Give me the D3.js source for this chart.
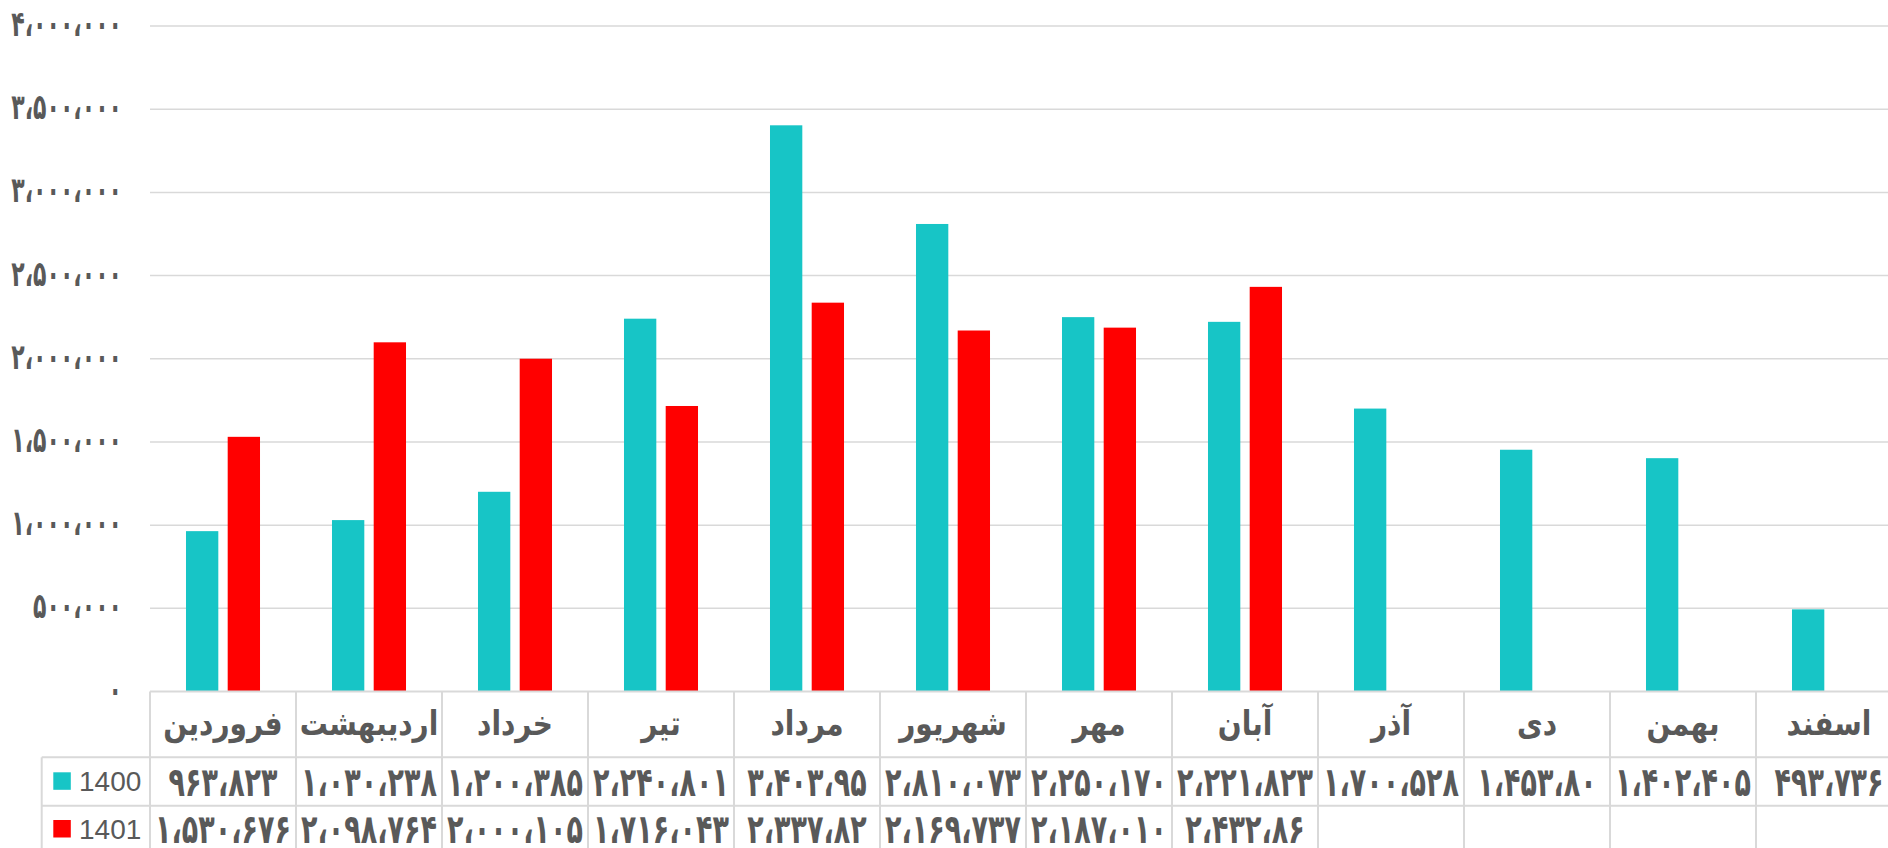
<!DOCTYPE html>
<html><head><meta charset="utf-8">
<script src="https://cdn.jsdelivr.net/npm/d3@7"></script>
<style>
html,body{margin:0;padding:0;background:#fff;overflow:hidden;}
svg{display:block;}
</style></head>
<body>
<svg id="chart" width="1888" height="848"></svg>
<script>
const months = ['فروردین','اردیبهشت','خرداد','تیر','مرداد','شهریور','مهر','آبان','آذر','دی','بهمن','اسفند'];
const seriesNames = ['1400','1401'];
const values1400 = [963823,1030238,1200385,2240801,3403095,2810073,2250170,2221823,1700528,1453080,1402405,493736];
const values1401 = [1530676,2098764,2000105,1716043,2337082,2169737,2187010,2432086];
const labels1400 = ['۹۶۳،۸۲۳','۱،۰۳۰،۲۳۸','۱،۲۰۰،۳۸۵','۲،۲۴۰،۸۰۱','۳،۴۰۳،۹۵','۲،۸۱۰،۰۷۳','۲،۲۵۰،۱۷۰','۲،۲۲۱،۸۲۳','۱،۷۰۰،۵۲۸','۱،۴۵۳،۸۰','۱،۴۰۲،۴۰۵','۴۹۳،۷۳۶'];
const labels1401 = ['۱،۵۳۰،۶۷۶','۲،۰۹۸،۷۶۴','۲،۰۰۰،۱۰۵','۱،۷۱۶،۰۴۳','۲،۳۳۷،۸۲','۲،۱۶۹،۷۳۷','۲،۱۸۷،۰۱۰','۲،۴۳۲،۸۶'];
const yTicks = [0,500000,1000000,1500000,2000000,2500000,3000000,3500000,4000000];
const colors = ['#17c5c6','#ff0000'];

const svg = d3.select('#chart');
const plotLeft = 150, colW = 146, plotTop = 26, plotBottom = 691.5;
const gridColor = '#d9d9d9', textColor = '#595959';
const faFont = "'DejaVu Sans', 'Noto Sans', sans-serif";

const x = d3.scaleBand().domain(months).range([plotLeft, plotLeft + colW*months.length]).padding(0);
const x1 = d3.scaleBand().domain(seriesNames).range([0, x.bandwidth()]).paddingInner(0.225).paddingOuter(0.863);
const y = d3.scaleLinear().domain([0, 4000000]).range([plotBottom, plotTop]);

const toFa = s => s.replace(/\d/g, d => '۰۱۲۳۴۵۶۷۸۹'[d]).replace(/,/g, '،');

// gridlines
svg.append('g').selectAll('line').data(yTicks.filter(d => d > 0)).join('line')
  .attr('x1', plotLeft).attr('x2', 1888)
  .attr('y1', d => y(d)).attr('y2', d => y(d))
  .attr('stroke', gridColor).attr('stroke-width', 1.5);

// y axis labels (tall bold Persian digits)
const yl = svg.append('g');
yl.selectAll('text').data(yTicks).join('text')
  .attr('transform', d => `translate(122,${y(d) + 10}) scale(1,1.6)`)
  .attr('text-anchor', 'end').attr('fill', textColor)
  .style('font-family', faFont).style('font-weight', 'bold').style('font-size', '22px')
  .attr('direction', 'ltr')
  .text(d => toFa(d3.format(',')(d)));

// bars
const series = [values1400, values1401];
series.forEach((vals, si) => {
  svg.append('g').selectAll('rect').data(vals).join('rect')
    .attr('x', (d, i) => x(months[i]) + x1(seriesNames[si]))
    .attr('width', x1.bandwidth())
    .attr('y', d => y(d))
    .attr('height', d => y(0) - y(d))
    .attr('fill', colors[si]);
});

// data table
const tTop = plotBottom, r1 = 757.3, r2 = 805.7, tBottom = 860, legLeft = 41.7;
const tg = svg.append('g');
const line = (x1_, y1_, x2_, y2_) => tg.append('line').attr('x1', x1_).attr('y1', y1_).attr('x2', x2_).attr('y2', y2_)
  .attr('stroke', gridColor).attr('stroke-width', 2);
line(plotLeft, tTop, 1888, tTop);
line(legLeft, r1, 1888, r1);
line(legLeft, r2, 1888, r2);
line(legLeft, r1, legLeft, tBottom);
tg.selectAll('line.v').data(months).join('line').attr('class', 'v')
  .attr('x1', d => x(d)).attr('x2', d => x(d)).attr('y1', tTop).attr('y2', tBottom)
  .attr('stroke', gridColor).attr('stroke-width', 2);

// header month names
tg.selectAll('text.m').data(months).join('text').attr('class', 'm')
  .attr('transform', d => `translate(${x(d) + x.bandwidth()/2},735) scale(1,1.2)`)
  .attr('text-anchor', 'middle').attr('fill', textColor)
  .style('font-family', faFont).style('font-weight', 'bold').style('font-size', '28px')
  .text(d => d);

// row values
const rowsY = [796, 843];
[labels1400, labels1401].forEach((labs, si) => {
  tg.append('g').selectAll('text').data(labs).join('text')
    .attr('transform', (d, i) => `translate(${x(months[i]) + x.bandwidth()/2},${rowsY[si]}) scale(1,1.5)`)
    .attr('text-anchor', 'middle').attr('fill', textColor)
    .style('font-family', faFont).style('font-weight', 'bold').style('font-size', '27px')
    .attr('direction', 'ltr')
    .text(d => d);
});

// legend keys in the first column
const legY = [772.3, 820];
seriesNames.forEach((n, si) => {
  tg.append('rect').attr('x', 53.3).attr('y', legY[si]).attr('width', 17.5).attr('height', 17.5).attr('fill', colors[si]);
  tg.append('text').attr('x', 79).attr('y', legY[si] + 18.5).attr('fill', textColor)
    .style('font-family', "'Liberation Sans', Arial, sans-serif").style('font-size', '28px').text(n);
});
</script>
</body></html>
